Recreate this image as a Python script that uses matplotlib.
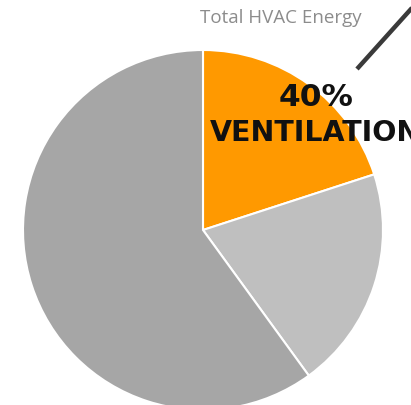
import matplotlib
matplotlib.use("Agg")
import matplotlib.pyplot as plt

# Share of total HVAC energy per component (percent)
labels = ["Ventilation", "Other", "Remaining HVAC"]
shares = [20, 20, 60]
colors = ["#FF9900", "#BFBFBF", "#A6A6A6"]

title = "Total HVAC Energy"
callout_value = "40%"
callout_label = "VENTILATION"

W, H = 411, 405
fig = plt.figure(figsize=(W / 100, H / 100), dpi=100)
ax = fig.add_axes([0, 0, 1, 1])

ax.pie(shares, colors=colors, startangle=90, counterclock=False,
       center=(203, H - 230), radius=180, frame=True,
       wedgeprops=dict(edgecolor="white", linewidth=1.5))
ax.set_xlim(0, W)
ax.set_ylim(0, H)
ax.axis("off")

ax.text(281, H - 18, title, ha="center", va="center", fontsize=13.5,
        color="#8C8C8C", family="Open Sans")

# Callout line leading off toward the top-right
ax.plot([357, 420], [H - 69, H - 69 + 70], color="#3A3A3A", lw=3.2,
        solid_capstyle="butt", clip_on=True)

ax.text(316, H - 97, callout_value, ha="center", va="center", fontsize=22.5,
        fontweight="bold", color="#111111", family="DejaVu Sans")
ax.text(210, H - 133, callout_label, ha="left", va="center", fontsize=20.5,
        fontweight="bold", color="#111111", family="DejaVu Sans")

fig.savefig("out.png", dpi=100)
